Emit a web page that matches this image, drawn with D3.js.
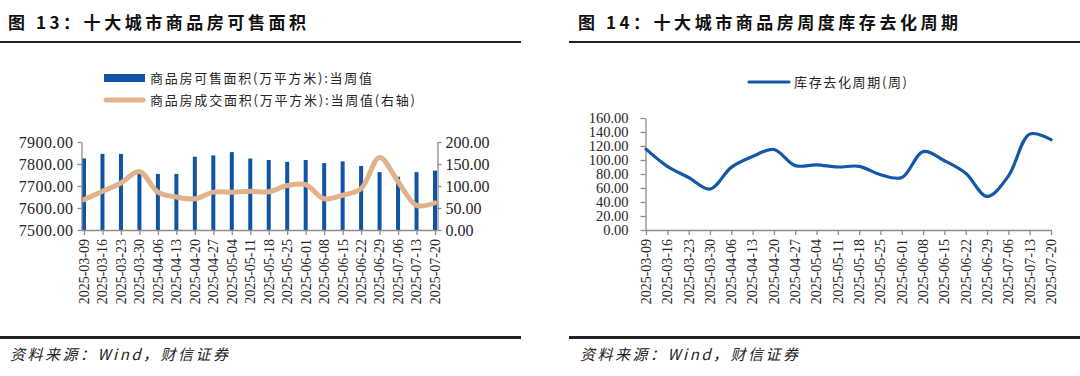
<!DOCTYPE html>
<html><head><meta charset="utf-8">
<script src="https://cdn.jsdelivr.net/npm/d3@7"></script>
<style>
html,body{margin:0;padding:0;background:#fff;}
svg{display:block;}
</style></head>
<body>
<svg id="c" width="1080" height="376"></svg>
<script>
const dates = ["2025-03-09","2025-03-16","2025-03-23","2025-03-30","2025-04-06","2025-04-13","2025-04-20","2025-04-27","2025-05-04","2025-05-11","2025-05-18","2025-05-25","2025-06-01","2025-06-08","2025-06-15","2025-06-22","2025-06-29","2025-07-06","2025-07-13","2025-07-20"];
const availableArea = [7825,7846,7846,7762,7755,7755,7833,7839,7854,7825,7818,7810,7818,7804,7812,7791,7763,7742,7763,7770];
const tradedArea = [69,88,107,133,86,75,71,86,86,88,87,101,103,71,79,94,165,110,56,62];
const destockCycle = [115.5,91,75,58.5,89.5,105,115,92,93,90,91,79,75,112,99,81,48,77,137,129];
const leftTicks = [7500,7600,7700,7800,7900];
const rightTicks = [0,50,100,150,200];
const cycleTicks = [0,20,40,60,80,100,120,140,160];
const titles = ["图 13：十大城市商品房可售面积","图 14：十大城市商品房周度库存去化周期"];
const legendLeft = ["商品房可售面积(万平方米):当周值","商品房成交面积(万平方米):当周值(右轴)"];
const legendRight = ["库存去化周期(周)"];
const sourceText = "资料来源：Wind，财信证券";

const svg = d3.select("#c");
const AX = "#8c8c8c", TXT = "#262626", BLUE = "#0f54a6", TAN = "#e2b28b", LBLUE = "#1358a7";
const serif = "'Liberation Serif','Times New Roman',serif";
const cjk = "'Noto Sans CJK SC','Noto Sans',sans-serif";

function fitText(sel, w){
  const node = sel.node();
  const n = Array.from(sel.text()).length;
  const len = node.getComputedTextLength();
  const ls = Math.max(0, (w - len) / Math.max(1, n - 1));
  sel.attr("letter-spacing", ls.toFixed(2) + "px");
}

// headers & footers
[[8,0,521,298],[578,569,1080,380]].forEach(([tx,x0,x1,tw],i)=>{
  svg.append("text").attr("x",tx).attr("y",23).attr("dy","0.35em")
    .attr("font-family",cjk).attr("font-weight",700).attr("font-size",17)
    .attr("fill","#111").text(titles[i]).call(fitText,tw);
  svg.append("line").attr("x1",x0).attr("x2",x1).attr("y1",42).attr("y2",42)
    .attr("stroke","#222").attr("stroke-width",2);
  svg.append("line").attr("x1",x0).attr("x2",x1).attr("y1",337.5).attr("y2",337.5)
    .attr("stroke","#222").attr("stroke-width",3);
  svg.append("text").attr("x",tx+2).attr("y",355).attr("dy","0.35em")
    .attr("font-family",cjk).attr("font-style","italic").attr("font-size",15)
    .attr("fill","#222").text(sourceText).call(fitText,218);
});

function styleAxis(g){
  g.selectAll("path,line").attr("stroke",AX).attr("stroke-width",1.3);
  g.selectAll("text").attr("fill",TXT).attr("font-family",serif);
}
function xLabels(g, x, y0){
  g.selectAll("text.xl").data(dates).join("text").attr("class","xl")
    .attr("transform",d=>`translate(${x(d)},${y0}) rotate(-90)`)
    .attr("text-anchor","end").attr("dy","0.35em")
    .attr("font-family",serif).attr("font-size",14).attr("fill",TXT).text(d=>d);
}

// ---------- Left chart ----------
const L = {l:81.5, r:437.5, t:142, b:230};
const xL = d3.scalePoint().domain(dates).range([84,435]);
const yL = d3.scaleLinear().domain([7500,7900]).range([L.b,L.t]);
const yR = d3.scaleLinear().domain([0,200]).range([L.b,L.t]);
const gL = svg.append("g");
gL.selectAll("rect.bar").data(dates).join("rect").attr("class","bar")
  .attr("x",d=>xL(d)-2).attr("width",4)
  .attr("y",(d,i)=>yL(availableArea[i])).attr("height",(d,i)=>L.b-yL(availableArea[i]))
  .attr("fill",BLUE);
gL.append("path").datum(tradedArea)
  .attr("d",d3.line().x((d,i)=>xL(dates[i])).y(d=>yR(d)).curve(d3.curveCatmullRom.alpha(0.5)))
  .attr("fill","none").attr("stroke",TAN).attr("stroke-width",5).attr("stroke-linecap","round");
const axL = gL.append("g").attr("transform",`translate(${L.l},0)`)
  .call(d3.axisLeft(yL).tickValues(leftTicks).tickFormat(d3.format(".2f")).tickSize(4).tickPadding(4).tickSizeOuter(0));
styleAxis(axL); axL.selectAll("text").attr("font-size",16).attr("letter-spacing","0.4px");
const axR = gL.append("g").attr("transform",`translate(${L.r},0)`)
  .call(d3.axisRight(yR).tickValues(rightTicks).tickFormat(d3.format(".2f")).tickSize(4).tickPadding(4).tickSizeOuter(0));
styleAxis(axR); axR.selectAll("text").attr("font-size",16);
const axB = gL.append("g").attr("transform",`translate(0,${L.b})`)
  .call(d3.axisBottom(xL).tickSize(5).tickFormat("").tickSizeOuter(0));
styleAxis(axB);
axB.select("path").attr("d",`M${L.l},0.5H${L.r}`);
xLabels(gL,xL,239);
// legend
gL.append("rect").attr("x",104).attr("y",74).attr("width",41).attr("height",8).attr("fill",BLUE);
gL.append("line").attr("x1",106).attr("x2",143).attr("y1",100).attr("y2",100)
  .attr("stroke",TAN).attr("stroke-width",5).attr("stroke-linecap","round");
[222,265].forEach((w,i)=>gL.append("text").attr("x",150).attr("y",78+i*22.5).attr("dy","0.35em")
  .attr("font-family",cjk).attr("font-size",13).attr("fill",TXT).text(legendLeft[i]).call(fitText,w));

// ---------- Right chart ----------
const R = {l:645.5, r:1051, t:118, b:230};
const xC = d3.scalePoint().domain(dates).range([646,1051]);
const yC = d3.scaleLinear().domain([0,160]).range([R.b,R.t]);
const gR = svg.append("g");
const axC = gR.append("g").attr("transform",`translate(${R.l},0)`)
  .call(d3.axisLeft(yC).tickValues(cycleTicks).tickFormat(d3.format(".2f")).tickSize(5).tickPadding(12).tickSizeOuter(0));
styleAxis(axC); axC.selectAll("text").attr("font-size",14.5);
const axCB = gR.append("g").attr("transform",`translate(0,${R.b})`)
  .call(d3.axisBottom(xC).tickSize(5).tickFormat("").tickSizeOuter(0));
styleAxis(axCB);
axCB.select("path").attr("d",`M${R.l},0.5H${R.r+1}`);
xLabels(gR,xC,239);
gR.append("path").datum(destockCycle)
  .attr("d",d3.line().x((d,i)=>xC(dates[i])).y(d=>yC(d)).curve(d3.curveCatmullRom.alpha(0.5)))
  .attr("fill","none").attr("stroke",LBLUE).attr("stroke-width",3.2).attr("stroke-linecap","round");
gR.append("line").attr("x1",749).attr("x2",789).attr("y1",82).attr("y2",82)
  .attr("stroke",LBLUE).attr("stroke-width",3.2).attr("stroke-linecap","round");
gR.append("text").attr("x",794).attr("y",82).attr("dy","0.35em")
  .attr("font-family",cjk).attr("font-size",13).attr("fill",TXT).text(legendRight[0]).call(fitText,113);
</script>
</body></html>
